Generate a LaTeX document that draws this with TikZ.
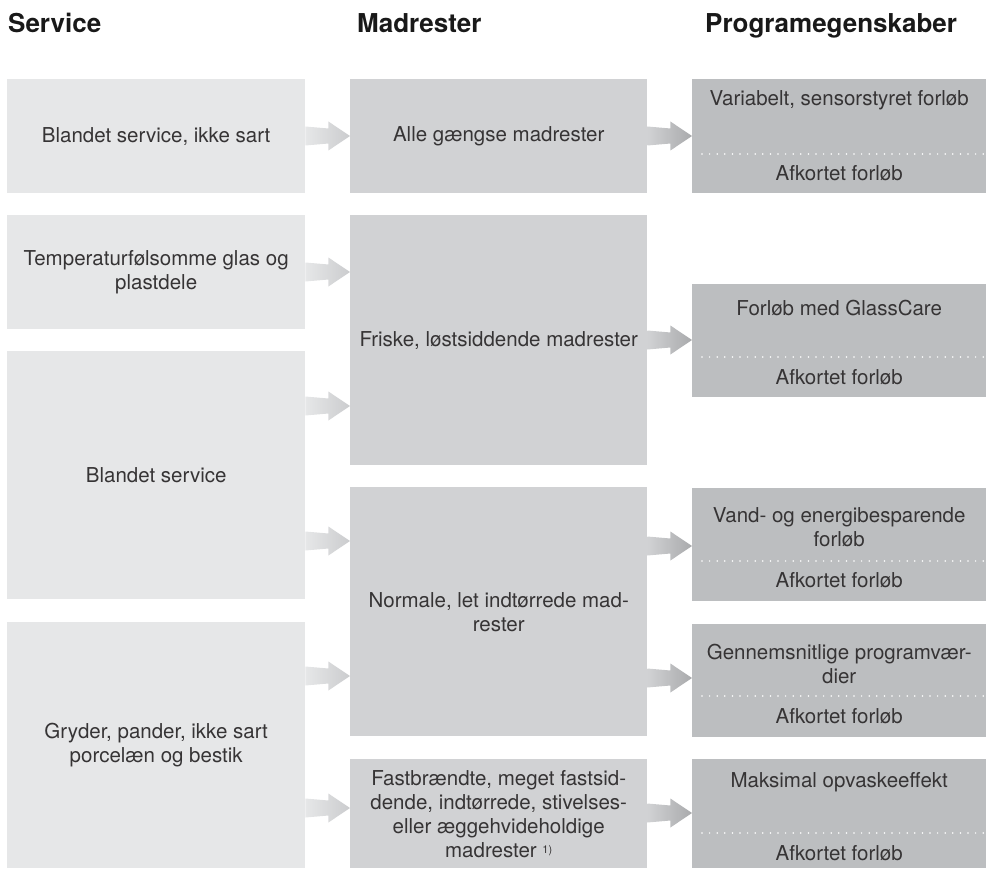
\documentclass[tikz,border=0pt]{standalone}
\usepackage{fontspec}
\setmainfont{TeX Gyre Heros}
\usetikzlibrary{calc}
\definecolor{colA}{HTML}{E6E7E8}
\definecolor{colB}{HTML}{D1D2D4}
\definecolor{colC}{HTML}{BCBEC0}
\definecolor{arrA}{HTML}{CBCCCE}
\definecolor{arrB}{HTML}{A9AAAC}
\definecolor{txt}{HTML}{363435}
\tikzset{
  head/.style={anchor=base west, font=\bfseries\fontsize{26}{30}\selectfont, text=black!90, inner sep=0pt},
  boxa/.style={anchor=north west, fill=colA, inner sep=0pt, minimum width=298pt, text=txt, align=center, font=\fontsize{20.5}{24}\selectfont},
  boxb/.style={anchor=north west, fill=colB, inner sep=0pt, minimum width=297pt, text=txt, align=center, font=\fontsize{20.5}{24}\selectfont},
  boxc/.style={anchor=north west, fill=colC, inner sep=0pt, minimum width=294pt},
  lbl/.style={text=txt, align=center, inner sep=0pt, font=\fontsize{20.5}{24}\selectfont},
  dotline/.style={draw=white, line width=1.7pt, line cap=round, dash pattern=on 0pt off 7.6pt},
  arra/.style={left color=colA, right color=arrA},
  arrb/.style={left color=colB, right color=arrB}
}
\newcommand\fatarrow[4]{%
  \coordinate (fs) at (#1.east |- 0,#3);
  \coordinate (ft) at (#2.west |- 0,#3);
  \shade[#4] ($(fs)+(0,-9.5)$) -- ($(fs)+(23,-7.5)$) -- ($(fs)+(23,-14.5)$) -- (ft)
     -- ($(fs)+(23,14.5)$) -- ($(fs)+(23,7.5)$) -- ($(fs)+(0,9.5)$) -- cycle;}
\newcommand\dotsep[3]{%
  \draw[dotline] ($(#1.west |- 0,#2)+(10,0)$) -- ($(#1.east |- 0,#2)+(-1,0)$);
  \node[lbl] at (#1.center |- 0,#3) {Afkortet forløb};}
\begin{document}
\begin{tikzpicture}[x=1pt,y=-1pt]
\useasboundingbox (0,0) rectangle (987,869);
% headers
\node[head] (h1) at (8,33) {Service};
\node[head] (h2) at (357,33) {Madrester};
\node[head] (h3) at (705,33) {Programegenskaber};
% column 1
\node[boxa, minimum height=114pt] (s1) at (7,79) {Blandet service, ikke sart};
\node[boxa, minimum height=114pt] (s2) at (7,215) {Temperaturfølsomme glas og\\plastdele};
\node[boxa, minimum height=248pt] (s3) at (7,351) {Blandet service};
\node[boxa, minimum height=246pt] (s4) at (7,622) {Gryder, pander, ikke sart\\porcelæn og bestik};
% column 2
\node[boxb, minimum height=114pt] (m1) at (350,79) {Alle gængse madrester};
\node[boxb, minimum height=250pt] (m2) at (350,215) {Friske, løstsiddende madrester};
\node[boxb, minimum height=249pt] (m3) at (350,487) {Normale, let indtørrede mad-\\rester};
\node[boxb, minimum height=109pt] (m4) at (350,759) {Fastbrændte, meget fastsid-\\dende, indtørrede, stivelses-\\eller æggehvideholdige\\madrester {\fontsize{11}{12}\selectfont\raisebox{0.7ex}{1)}}};
% column 3
\node[boxc, minimum height=114pt] (p1) at (692,79) {};
\node[boxc, minimum height=113pt] (p2) at (692,284) {};
\node[boxc, minimum height=113pt] (p3) at (692,488) {};
\node[boxc, minimum height=113pt] (p4) at (692,624) {};
\node[boxc, minimum height=109pt] (p5) at (692,759) {};
\node[lbl] (t1) at (p1.center |- 0,100) {Variabelt, sensorstyret forløb};
\node[lbl] (t2) at (p2.center |- 0,308) {Forløb med GlassCare};
\node[lbl] (t3) at (p3.center |- 0,527.5) {Vand- og energibesparende\\forløb};
\node[lbl] (t4) at (p4.center |- 0,664) {Gennemsnitlige programvær-\\dier};
\node[lbl] (t5) at (p5.center |- 0,782) {Maksimal opvaskeeffekt};
\dotsep{p1}{154}{173}
\dotsep{p2}{357}{377}
\dotsep{p3}{561}{580}
\dotsep{p4}{696}{716}
\dotsep{p5}{833}{853}
% arrows
\fatarrow{s1}{m1}{136}{arra}
\fatarrow{s2}{m2}{272}{arra}
\fatarrow{s3}{m2}{406}{arra}
\fatarrow{s3}{m3}{541}{arra}
\fatarrow{s4}{m3}{676}{arra}
\fatarrow{s4}{m4}{808}{arra}
\fatarrow{m1}{p1}{136}{arrb}
\fatarrow{m2}{p2}{340}{arrb}
\fatarrow{m3}{p3}{546}{arrb}
\fatarrow{m3}{p4}{678}{arrb}
\fatarrow{m4}{p5}{813}{arrb}
\end{tikzpicture}
\end{document}
